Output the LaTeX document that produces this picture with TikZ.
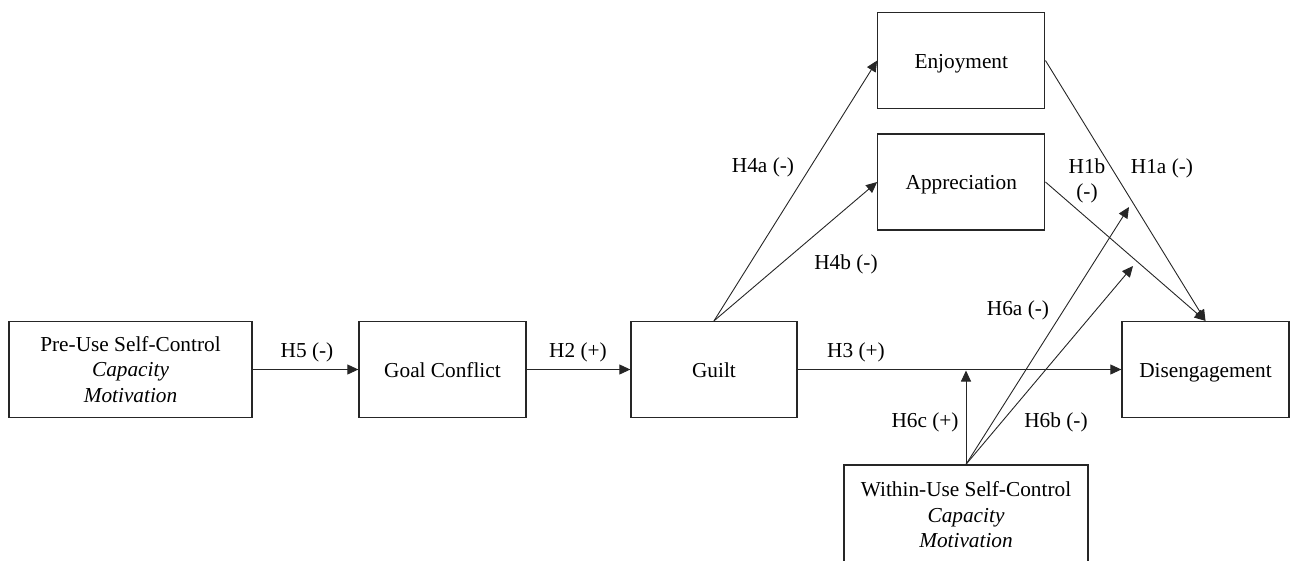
\documentclass[tikz,border=0pt]{standalone}
\usepackage{fontspec}
\setmainfont{Liberation Serif}
\usetikzlibrary{arrows.meta}
\begin{document}
\begin{tikzpicture}[x=1pt,y=-1pt,
  every node/.style={font=\fontsize{21.3}{25.5}\selectfont},
  box/.style={draw=black!85, line width=1.3pt, inner sep=0pt, align=center, minimum height=96pt},
  onebox/.style={box, text depth=0pt, text height=15pt},
  lbl/.style={inner sep=0pt, align=center},
  conn/.style={draw=black!85, line width=0.9pt, -{Triangle[length=11pt,width=10pt]}}
]
\useasboundingbox (0,0) rectangle (1290,560);
% boxes
\node[box, minimum width=243pt] (pre) at (130.5,369.5) {Pre-Use Self-Control\\\textit{Capacity}\\\textit{Motivation}};
\node[onebox, minimum width=167pt] (goal) at (442.5,369.5) {Goal Conflict};
\node[onebox, minimum width=166pt] (guilt) at (714,369.5) {Guilt};
\node[onebox, minimum width=167pt] (dis) at (1205.5,369.5) {Disengagement};
\node[onebox, minimum width=167pt] (enj) at (961.3,60.5) {Enjoyment};
\node[onebox, minimum width=167pt] (app) at (961.3,182) {Appreciation};
\node[box, minimum width=244pt, minimum height=100pt] (within) at (966,515) {Within-Use Self-Control\\\textit{Capacity}\\\textit{Motivation}};
% free arrow ends
\coordinate (h6ctip) at (966,370.5);
\coordinate (h6atip) at (1129,207);
\coordinate (h6btip) at (1133,266);
% connectors
\draw[conn] (pre.east) -- (goal.west);
\draw[conn] (goal.east) -- (guilt.west);
\draw[conn] (guilt.east) -- (dis.west);
\draw[conn] (guilt.north) -- (enj.west);
\draw[conn] (guilt.north) -- (app.west);
\draw[conn] (enj.east) -- (dis.north);
\draw[conn] (app.east) -- (dis.north);
\draw[conn] (within.north) -- (h6ctip);
\draw[conn] (within.north) -- (h6atip);
\draw[conn] (within.north) -- (h6btip);
% labels
\node[lbl] (l5) at (307,352.5) {H5 (-)};
\node[lbl] (l2) at (578,352.5) {H2 (+)};
\node[lbl] (l3) at (856,352) {H3 (+)};
\node[lbl] (l4a) at (763,167) {H4a (-)};
\node[lbl] (l4b) at (846,264.5) {H4b (-)};
\node[lbl] (l1b) at (1087,181) {H1b\\(-)};
\node[lbl] (l1a) at (1162,168) {H1a (-)};
\node[lbl] (l6a) at (1018,310.5) {H6a (-)};
\node[lbl] (l6c) at (925,422) {H6c (+)};
\node[lbl] (l6b) at (1056,422) {H6b (-)};
\end{tikzpicture}
\end{document}
